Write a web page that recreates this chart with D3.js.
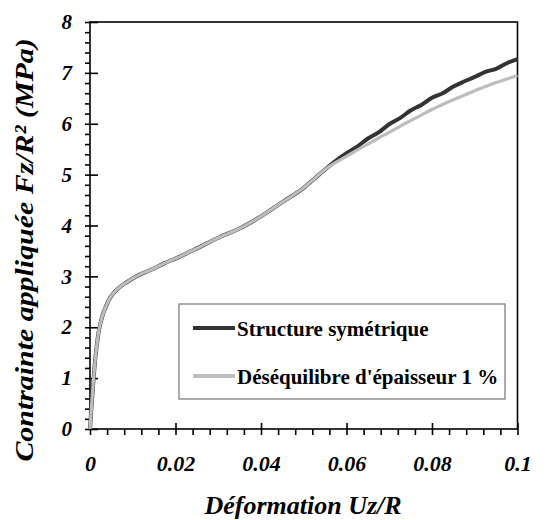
<!DOCTYPE html>
<html>
<head>
<meta charset="utf-8">
<script src="https://cdn.jsdelivr.net/npm/d3@7"></script>
</head>
<body style="margin:0">
<div id="chart"></div>
<script>
// Data
const strain = [0, 0.0004, 0.0008, 0.0012, 0.0016, 0.002, 0.0025, 0.003, 0.0035, 0.0045, 0.0055,
    0.007, 0.0085, 0.01, 0.0115, 0.014, 0.0175, 0.02, 0.025, 0.03, 0.035, 0.04, 0.045, 0.05, 0.0525, 0.055,
    0.0575, 0.06, 0.0625, 0.065, 0.0675, 0.07, 0.0725, 0.075, 0.0775, 0.08, 0.0825, 0.085, 0.0875,
    0.09, 0.0925, 0.095, 0.0975, 0.1];
const symValues = [0, 0.5, 0.95, 1.35, 1.65, 1.9, 2.1, 2.25, 2.36, 2.55, 2.67,
    2.79, 2.88, 2.96, 3.03, 3.12, 3.26, 3.35, 3.55, 3.76, 3.94, 4.18, 4.46, 4.74, 4.92, 5.10,
    5.27, 5.42, 5.55, 5.71, 5.83, 5.99, 6.11, 6.26, 6.37, 6.51, 6.60, 6.73, 6.83,
    6.92, 7.02, 7.08, 7.19, 7.27];
const unbalValues = [0, 0.5, 0.95, 1.35, 1.65, 1.9, 2.1, 2.25, 2.36, 2.55, 2.67,
    2.79, 2.88, 2.96, 3.03, 3.12, 3.26, 3.35, 3.55, 3.76, 3.94, 4.18, 4.46, 4.74, 4.92, 5.10,
    5.24, 5.36, 5.48, 5.60, 5.72, 5.83, 5.95, 6.06, 6.17, 6.28, 6.38, 6.47, 6.56,
    6.65, 6.73, 6.81, 6.88, 6.95];
const seriesNames = ["Structure symétrique", "Déséquilibre d'épaisseur 1 %"];
const xTicks = [0, 0.02, 0.04, 0.06, 0.08, 0.1];
const xTickLabels = ["0", "0.02", "0.04", "0.06", "0.08", "0.1"];
const yTicks = [0, 1, 2, 3, 4, 5, 6, 7, 8];
const xTitle = "Déformation Uz/R";
const yTitle = "Contrainte appliquée Fz/R² (MPa)";

const FONT = "'Liberation Serif'";
const W = 546, H = 520;
var margin = {top: 22, right: 28.5, bottom: 91, left: 90},
    width = W - margin.left - margin.right,
    height = H - margin.top - margin.bottom;

const svg = d3.select("#chart").append("svg")
    .attr("width", W)
    .attr("height", H);

const g = svg.append("g")
    .attr("transform", `translate(${margin.left},${margin.top})`);

const x = d3.scaleLinear().domain([0, 0.1]).range([0, width]);
const y = d3.scaleLinear().domain([0, 8]).range([height, 0]);

// frame
g.append("rect")
    .attr("width", width)
    .attr("height", height)
    .attr("fill", "none")
    .attr("stroke", "#000")
    .attr("stroke-width", 1.6);

// minor ticks
const yMinor = d3.range(0, 8.01, 0.2).filter(v => Math.abs(v - Math.round(v)) > 1e-6);
g.append("g")
    .call(d3.axisLeft(y).tickValues(yMinor).tickSize(5).tickFormat(""))
    .call(a => a.select(".domain").remove())
    .selectAll("line").attr("stroke-width", 1.6);

const xMinor = d3.range(0, 0.1001, 0.004).filter(v => Math.abs(v / 0.02 - Math.round(v / 0.02)) > 1e-6);
g.append("g")
    .attr("transform", `translate(0,${height})`)
    .call(d3.axisBottom(x).tickValues(xMinor).tickSize(6).tickFormat(""))
    .call(a => a.select(".domain").remove())
    .selectAll("line").attr("stroke-width", 1.6);

// major ticks
const yAxis = g.append("g")
    .call(d3.axisLeft(y).tickValues(yTicks).tickSize(5).tickPadding(13).tickFormat(d3.format("d")))
    .call(a => a.select(".domain").remove())
    .attr("font-family", "Liberation Serif");
yAxis.selectAll("line").attr("x1", 8).attr("stroke-width", 1.6);
yAxis.selectAll("text")
    .style("font-family", FONT)
    .style("font-size", "21px")
    .style("font-weight", "bold")
    .style("font-style", "italic")
    .attr("fill", "#000");

const xAxis = g.append("g")
    .attr("transform", `translate(0,${height})`)
    .call(d3.axisBottom(x).tickValues(xTicks).tickSize(6).tickPadding(20)
        .tickFormat((d, i) => xTickLabels[i]))
    .call(a => a.select(".domain").remove())
    .attr("font-family", "Liberation Serif");
xAxis.selectAll("line").attr("y1", -6).attr("stroke-width", 1.6);
xAxis.selectAll("text")
    .style("font-family", FONT)
    .style("font-size", "22px")
    .style("font-weight", "bold")
    .style("font-style", "italic")
    .attr("fill", "#000");

// titles
svg.append("text")
    .attr("x", 303)
    .attr("y", 514)
    .attr("text-anchor", "middle")
    .style("font-family", FONT)
    .style("font-size", "26px")
    .style("font-weight", "bold")
    .style("font-style", "italic")
    .text(xTitle);

svg.append("text")
    .attr("transform", "translate(33,250) rotate(-90) scale(1.15,1)")
    .attr("text-anchor", "middle")
    .style("font-family", FONT)
    .style("font-size", "26px")
    .style("font-weight", "bold")
    .style("font-style", "italic")
    .text(yTitle);

// curves
const line = d3.line()
    .x(d => x(d[0]))
    .y(d => y(d[1]))
    .curve(d3.curveMonotoneX);

const symData = strain.map((s, i) => [s, symValues[i]]);
const unbalData = strain.map((s, i) => [s, unbalValues[i]]);

g.append("path")
    .datum(symData)
    .attr("fill", "none")
    .attr("stroke", "#333")
    .attr("stroke-width", 4)
    .attr("d", line);

g.append("path")
    .datum(unbalData)
    .attr("fill", "none")
    .attr("stroke", "#bdbdbd")
    .attr("stroke-width", 3.2)
    .attr("d", line);

// legend
const legend = svg.append("g").attr("transform", "translate(179,304)");
legend.append("rect")
    .attr("width", 326)
    .attr("height", 95)
    .attr("fill", "#fff")
    .attr("stroke", "#808080")
    .attr("stroke-width", 1.3);

const legendColors = ["#333", "#bdbdbd"];
seriesNames.forEach((name, i) => {
    const row = legend.append("g").attr("transform", `translate(0,${24 + i * 48})`);
    row.append("line")
        .attr("x1", 14).attr("x2", 56)
        .attr("stroke", legendColors[i])
        .attr("stroke-width", 4);
    row.append("text")
        .attr("x", 58)
        .attr("y", 8)
        .style("font-family", FONT)
        .style("font-size", "21px")
        .style("font-weight", "bold")
        .text(name);
});
</script>
</body>
</html>
